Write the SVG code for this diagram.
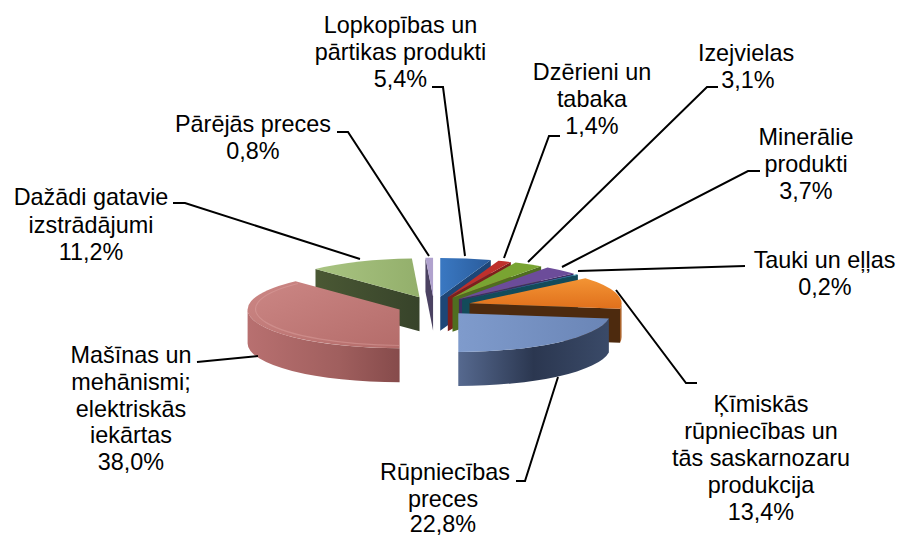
<svg xmlns="http://www.w3.org/2000/svg" width="900" height="537" viewBox="0 0 900 537">
<style>
.t{font-family:"Liberation Sans",Arial,sans-serif;font-size:23.4px;fill:#000;text-anchor:middle}
.ld{fill:none;stroke:#000;stroke-width:2}
</style>
<defs>
<linearGradient id="gLop" x1="0" y1="0" x2="1" y2="0"><stop offset="0" stop-color="#3A78C2"/><stop offset="1" stop-color="#2A5C9C"/></linearGradient>
<linearGradient id="gKim" x1="0" y1="0" x2="0" y2="1"><stop offset="0" stop-color="#F39434"/><stop offset="1" stop-color="#E0701C"/></linearGradient>
<linearGradient id="gRup" x1="0" y1="0" x2="1" y2="0"><stop offset="0" stop-color="#7F9BCC"/><stop offset="1" stop-color="#6A85B6"/></linearGradient>
<linearGradient id="gRupSide" x1="0" y1="0" x2="1" y2="0"><stop offset="0" stop-color="#56698F"/><stop offset="0.5" stop-color="#2B3750"/><stop offset="1" stop-color="#3A4A68"/></linearGradient>
<linearGradient id="gMas" x1="0" y1="0" x2="1" y2="1"><stop offset="0" stop-color="#CC8785"/><stop offset="1" stop-color="#B46C6A"/></linearGradient>
<linearGradient id="gMasSide" x1="0" y1="0" x2="1" y2="0"><stop offset="0" stop-color="#B87070"/><stop offset="0.6" stop-color="#A05F5E"/><stop offset="1" stop-color="#864B4B"/></linearGradient>
<linearGradient id="gDaz" x1="0" y1="0" x2="1" y2="0"><stop offset="0" stop-color="#A9C482"/><stop offset="1" stop-color="#93AF6B"/></linearGradient>
<linearGradient id="gDazFace" x1="0" y1="0" x2="1" y2="0"><stop offset="0" stop-color="#4A5834"/><stop offset="1" stop-color="#37432A"/></linearGradient>
</defs>

<g id="pie">
<g id="slice-lopkopibas">
<path d="M440.25,296.69 L490.84,260.10 L490.84,294.10 L440.25,330.69 Z" fill="#1E4677"/>
<path d="M440.25,296.69 L440.25,257.89 A152,38.8 0 0 1 490.84,260.10 Z" fill="url(#gLop)"/>
</g>
<g id="slice-parejas">
<path d="M433.07,296.56 L425.44,257.81 L425.44,291.81 L433.07,330.56 Z" fill="#4B4262"/>
<path d="M433.07,296.56 L425.44,257.81 A152,38.8 0 0 1 433.07,257.76 Z" fill="#B0A2CE"/>
</g>
<g id="slice-dzerieni">
<path d="M447.84,297.34 L510.83,262.03 L510.83,296.03 L447.84,331.34 Z" fill="#7E1F1C"/>
<path d="M447.84,297.34 L498.43,260.75 A152,38.8 0 0 1 510.83,262.03 Z" fill="#BE302C"/>
</g>
<g id="slice-izejvielas">
<path d="M452.53,297.82 L541.10,266.29 L541.10,300.29 L452.53,331.82 Z" fill="#4F6E20"/>
<path d="M452.53,297.82 L515.52,262.51 A152,38.8 0 0 1 541.10,266.29 Z" fill="#79A432"/>
</g>
<g id="slice-mineralie">
<path d="M458.90,299.01 L573.52,273.53 L573.52,307.53 L458.90,333.01 Z" fill="#3F2C63"/>
<path d="M458.90,299.01 L547.47,267.48 A152,38.8 0 0 1 573.52,273.53 Z" fill="#6C4C9A"/>
</g>
<g id="slice-tauki">
<path d="M462.05,299.84 L577.90,274.72 L577.90,308.72 L462.05,333.84 Z" fill="#134B5A"/>
<path d="M462.05,299.84 L576.67,274.36 A152,38.8 0 0 1 577.90,274.72 Z" fill="#2E90AE"/>
</g>
<g id="slice-dazadi">
<path d="M419.52,297.31 L315.48,269.02 L315.48,303.02 L419.52,331.31 Z" fill="url(#gDazFace)"/>
<path d="M419.52,297.31 L315.48,269.02 A152,38.8 0 0 1 411.89,258.56 Z" fill="url(#gDaz)"/>
</g>
<g id="slice-kimiskas">
<path d="M469.53,303.36 L620.09,308.71 L620.09,342.71 L469.53,337.36 Z" fill="#4D2A0E"/>
<path d="M621.53,303.36 A152,38.8 0 0 1 620.09,308.71 L620.09,342.71 A152,38.8 0 0 0 621.53,337.36 Z" fill="#A5561A"/>
<path d="M469.53,303.36 L585.38,278.24 A152,38.8 0 0 1 620.09,308.71 Z" fill="url(#gKim)"/>
</g>
<g id="slice-masinas">
<path d="M399.60,348.28 A152,38.8 0 0 1 247.60,309.48 L247.60,343.48 A152,38.8 0 0 0 399.60,382.28 Z" fill="url(#gMasSide)"/>
<path d="M399.60,309.48 L399.60,348.28 A152,38.8 0 0 1 295.56,281.19 Z" fill="url(#gMas)"/>
<path d="M399.60,345.5 A149,36.5 0 0 1 298,283.5" fill="none" stroke="#DDA3A1" stroke-width="1.2" opacity="0.45"/>
</g>
<g id="slice-rupniecibas">
<path d="M608.85,318.48 A152,38.8 0 0 1 458.29,351.93 L458.29,385.93 A152,38.8 0 0 0 608.85,352.48 Z" fill="url(#gRupSide)"/>
<path d="M458.29,313.13 L608.85,318.48 A152,38.8 0 0 1 458.29,351.93 Z" fill="url(#gRup)"/>
</g>
</g>

<g id="connectors">
<polyline class="ld" points="432,87 443,87 465,256"/>
<polyline class="ld" points="337,132 348,132 429,256"/>
<polyline class="ld" points="560,136 549,136 504,258"/>
<polyline class="ld" points="718,87 707,87 528,262"/>
<polyline class="ld" points="760,171 748,171 562,267"/>
<polyline class="ld" points="578,271 745,266"/>
<polyline class="ld" points="616,290 686,383 697,383"/>
<polyline class="ld" points="516,481 525,481 558,377"/>
<polyline class="ld" points="197,362 258,356"/>
<polyline class="ld" points="173,203 185,203 360,259"/>
</g>

<g id="label-lopkopibas"><text class="t" x="400.5" y="33">Lopkopības un</text><text class="t" x="400.5" y="60">pārtikas produkti</text><text class="t" x="400.5" y="87">5,4%</text></g>
<g id="label-parejas"><text class="t" x="253" y="132">Pārējās preces</text><text class="t" x="253" y="159">0,8%</text></g>
<g id="label-dzerieni"><text class="t" x="592" y="80">Dzērieni un</text><text class="t" x="592" y="107">tabaka</text><text class="t" x="592" y="134">1,4%</text></g>
<g id="label-izejvielas"><text class="t" x="746" y="61">Izejvielas</text><text class="t" x="748" y="88">3,1%</text></g>
<g id="label-mineralie"><text class="t" x="806" y="145">Minerālie</text><text class="t" x="806" y="172">produkti</text><text class="t" x="806" y="199">3,7%</text></g>
<g id="label-tauki"><text class="t" x="824.5" y="268">Tauki un eļļas</text><text class="t" x="825" y="295">0,2%</text></g>
<g id="label-kimiskas"><text class="t" x="761" y="412">Ķīmiskās</text><text class="t" x="761" y="439">rūpniecības un</text><text class="t" x="761" y="466">tās saskarnozaru</text><text class="t" x="761" y="493">produkcija</text><text class="t" x="761" y="520">13,4%</text></g>
<g id="label-rupniecibas"><text class="t" x="445" y="480">Rūpniecības</text><text class="t" x="443" y="507">preces</text><text class="t" x="443" y="532">22,8%</text></g>
<g id="label-masinas"><text class="t" x="131" y="363">Mašīnas un</text><text class="t" x="131" y="390">mehānismi;</text><text class="t" x="131" y="417">elektriskās</text><text class="t" x="131" y="443">iekārtas</text><text class="t" x="131" y="470">38,0%</text></g>
<g id="label-dazadi"><text class="t" x="91" y="205">Dažādi gatavie</text><text class="t" x="91" y="233">izstrādājumi</text><text class="t" x="91" y="260">11,2%</text></g>
</svg>
